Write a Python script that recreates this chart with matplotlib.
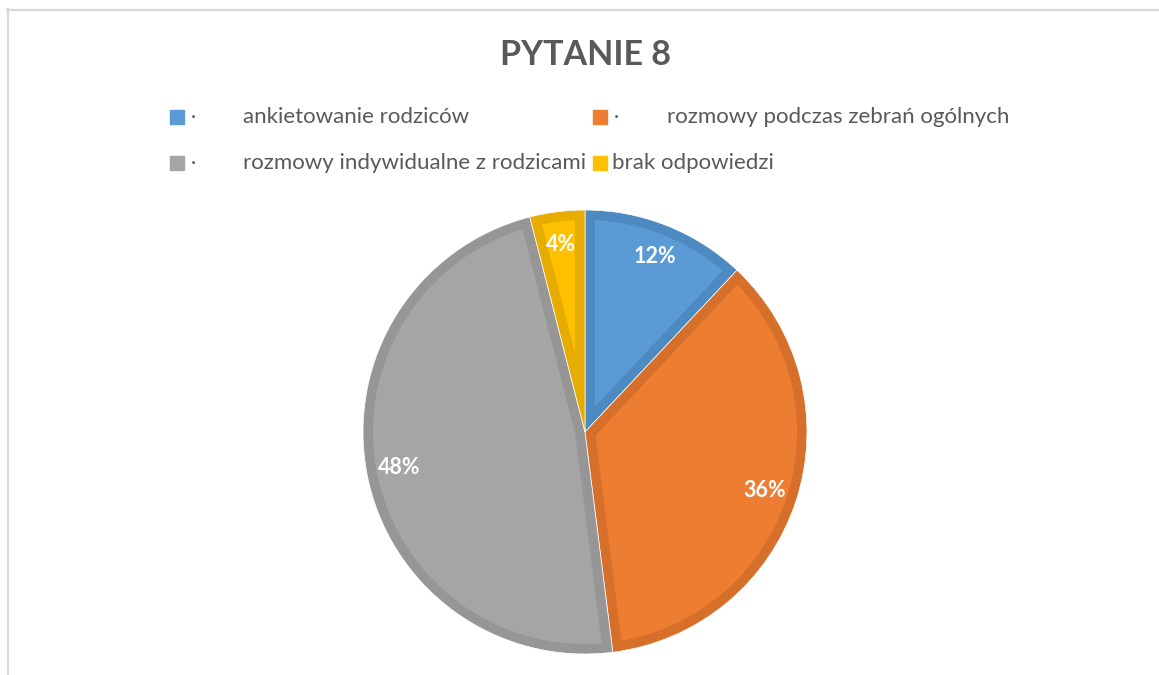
import matplotlib
matplotlib.use("Agg")
import numpy as np
import matplotlib.pyplot as plt
from matplotlib.patches import Rectangle, Polygon
from matplotlib.lines import Line2D

title = "PYTANIE 8"
labels = ["ankietowanie rodziców", "rozmowy podczas zebrań ogólnych",
          "rozmowy indywidualne z rodzicami", "brak odpowiedzi"]
bullets = ["·", "·", "·", ""]
values = [12, 36, 48, 4]
colors = ["#5B9BD5", "#ED7D31", "#A5A5A5", "#FFC000"]
edges = ["#4E8AC2", "#D66F2A", "#969696", "#E6AC00"]

W, H = 1159, 675
plt.rcParams['font.family'] = ['Lato', 'DejaVu Sans']
fig = plt.figure(figsize=(W / 100, H / 100), dpi=100)


def fx(x):
    return x / W


def fy(y):
    return 1 - y / H


# chart frame (cut off at right/bottom)
fig.add_artist(Line2D([fx(7.5), fx(7.5)], [fy(9), fy(H + 5)], color="#D9D9D9", lw=1.6))
fig.add_artist(Line2D([fx(7), fx(1158)], [fy(9.5), fy(9.5)], color="#D9D9D9", lw=1.6))

fig.text(fx(585), fy(55), title, ha="center", va="center", fontsize=24.5,
         fontweight="bold", color="#595959")

# legend, laid out by hand like the Excel one
rows = [117, 117, 163, 163]
sq_x = [170, 593, 170, 593]
txt_x = [243, 667, 243, 612]
for k, y in enumerate(rows):
    fig.add_artist(Rectangle((fx(sq_x[k]), fy(y + 7)), 14 / W, 14 / H,
                             transform=fig.transFigure, color=colors[k]))
    if bullets[k]:
        fig.text(fx(sq_x[k] + 21), fy(y), bullets[k], ha="left", va="center",
                 fontsize=14, color="#595959")
    fig.text(fx(txt_x[k]), fy(y), labels[k], ha="left", va="center",
             fontsize=16, color="#595959")

cx, cy, r = 585, 432, 222
ax = fig.add_axes([fx(cx - r), fy(cy + r), 2 * r / W, 2 * r / H])
wedges, texts, autotexts = ax.pie(values, colors=edges, startangle=90,
                                  counterclock=False, autopct="%1.0f%%",
                                  pctdistance=0.85,
                                  wedgeprops=dict(edgecolor="white", linewidth=0.5),
                                  textprops=dict(color="white", fontsize=15.5,
                                                 fontweight="bold"))

# lighter inner part of each slice, inset by the border width
d = 10 / r
for w, c in zip(wedges, colors):
    t1, t2 = np.radians(w.theta1), np.radians(w.theta2)
    half = (t2 - t1) / 2
    mid = t1 + half
    rho = 1 - d
    delta = np.arcsin(d / rho)
    apex = d / np.sin(half)
    arc = np.linspace(t1 + delta, t2 - delta, 100)
    pts = [(apex * np.cos(mid), apex * np.sin(mid))]
    pts += list(zip(rho * np.cos(arc), rho * np.sin(arc)))
    ax.add_patch(Polygon(pts, closed=True, facecolor=c, edgecolor="none", zorder=1.5))

for t in autotexts:
    t.set_zorder(3)
ax.set_xlim(-1, 1)
ax.set_ylim(-1, 1)
ax.axis("off")

fig.savefig("out.png", dpi=100, facecolor="white")
